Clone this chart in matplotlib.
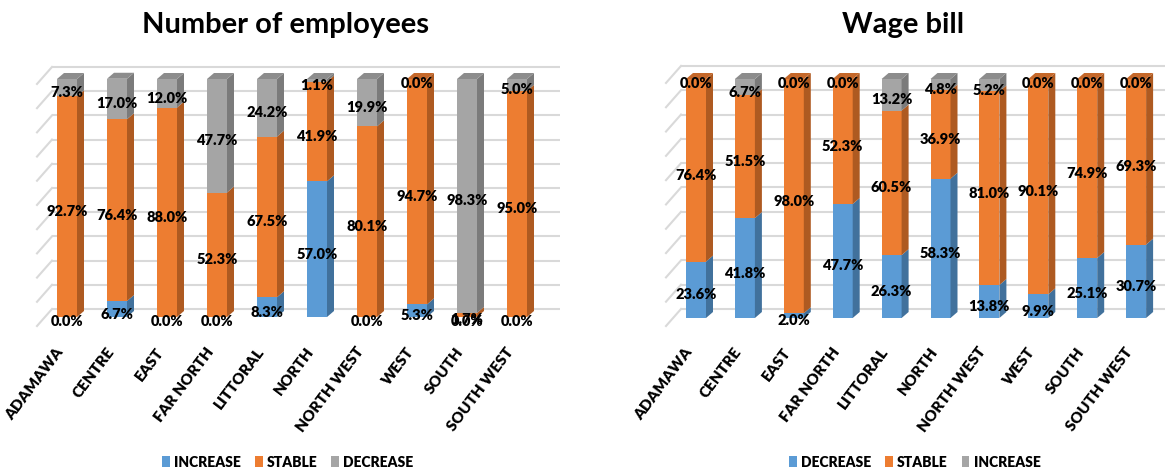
import matplotlib
matplotlib.use("Agg")
import matplotlib.pyplot as plt
from matplotlib.patches import Polygon, Patch

# Regions (x-axis categories)
regions = ["ADAMAWA", "CENTRE", "EAST", "FAR NORTH", "LITTORAL",
           "NORTH", "NORTH WEST", "WEST", "SOUTH", "SOUTH WEST"]

# Number of employees (% of firms)
emp_increase = [0.0, 6.7, 0.0, 0.0, 8.3, 57.0, 0.0, 5.3, 0.0, 0.0]
emp_stable = [92.7, 76.4, 88.0, 52.3, 67.5, 41.9, 80.1, 94.7, 1.7, 95.0]
emp_decrease = [7.3, 17.0, 12.0, 47.7, 24.2, 1.1, 19.9, 0.0, 98.3, 5.0]

# Wage bill (% of firms)
wage_decrease = [23.6, 41.8, 2.0, 47.7, 26.3, 58.3, 13.8, 9.9, 25.1, 30.7]
wage_stable = [76.4, 51.5, 98.0, 52.3, 60.5, 36.9, 81.0, 90.1, 74.9, 69.3]
wage_increase = [0.0, 6.7, 0.0, 0.0, 13.2, 4.8, 5.2, 0.0, 0.0, 0.0]

W, H = 1175, 477
fig = plt.figure(figsize=(W / 100, H / 100), dpi=100)
fig.patch.set_facecolor("white")

SHADES = {
    "blue": {"front": "#5B9BD5", "side": "#41719C", "top": "#4A84BA"},
    "orange": {"front": "#ED7D31", "side": "#AE5A21", "top": "#C5682A"},
    "gray": {"front": "#A5A5A5", "side": "#7B7B7B", "top": "#8C8C8C"},
}
LABEL_FONT = dict(family="Lato", fontweight="heavy")
GRID = "#D9D9D9"


def panel(title, title_x, series, x0, x1, c0, step, base, scale,
          grid_x0, grid_x1, grid_base, legend_x):
    ytop, ybot = 40, 400
    ax = fig.add_axes([x0 / W, 1 - ybot / H, (x1 - x0) / W, (ybot - ytop) / H])
    ax.set_xlim((x0 - c0) / step, (x1 - c0) / step)
    ax.set_ylim((base - ybot) / scale, (base - ytop) / scale)
    ax.axis("off")

    def ux(p):
        return p / step

    def uy(p):
        return p / scale

    n = len(regions)
    xs = list(range(n))
    width = ux(20)
    dx, dy = ux(7), uy(6)

    # back wall gridlines with their slanted floor edges
    g_off = (base - grid_base) / scale
    gx0 = (grid_x0 - c0) / step
    gx1 = (grid_x1 - c0) / step
    for v in range(0, 101, 10):
        yb = v * 1.017 + g_off
        ax.plot([gx0, gx1], [yb, yb], color=GRID, lw=1.5, zorder=1,
                solid_capstyle="butt")
        ax.plot([gx0, gx0 - ux(15)], [yb, yb - uy(17)], color=GRID, lw=1.5,
                zorder=1)

    bottoms = [0.0] * n
    top_color = [None] * n
    for vals, name, shade in series:
        col = SHADES[shade]
        ax.bar(xs, vals, width=width, bottom=bottoms, color=col["front"],
               linewidth=0, zorder=3)
        for i, (b, h) in enumerate(zip(bottoms, vals)):
            if h > 0:
                xr = i + width / 2
                ax.add_patch(Polygon(
                    [(xr, b), (xr + dx, b + dy), (xr + dx, b + h + dy), (xr, b + h)],
                    closed=True, facecolor=col["side"], lw=0, zorder=3))
                top_color[i] = col["top"]
        bottoms = [b + h for b, h in zip(bottoms, vals)]

    for i, t in enumerate(bottoms):
        xl = i - width / 2
        ax.add_patch(Polygon(
            [(xl, t), (xl + width, t), (xl + width + dx, t + dy), (xl + dx, t + dy)],
            closed=True, facecolor=top_color[i], lw=0, zorder=3))

    # value labels
    bottoms = [0.0] * n
    for vals, name, shade in series:
        for i, (b, h) in enumerate(zip(bottoms, vals)):
            ax.text(i, b + h / 2 - uy(4), f"{h:.1f}%", ha="center", va="center",
                    fontsize=10.5, color="black", zorder=6, **LABEL_FONT)
        bottoms = [b + h for b, h in zip(bottoms, vals)]

    # rotated category labels
    for i, r in enumerate(regions):
        ax.text(i - ux(6), (base - 349) / scale, r, rotation=53,
                rotation_mode="anchor", ha="right", va="center",
                fontsize=11, color="black", **LABEL_FONT)

    fig.text(title_x / W, 1 - 33 / H, title, ha="center", va="baseline",
             fontsize=21, fontweight="bold", family="Lato", color="black")

    handles = [Patch(facecolor=SHADES[s]["front"], edgecolor="none")
               for _, _, s in series]
    labels = [name for _, name, _ in series]
    fig.legend(handles, labels, loc="center",
               bbox_to_anchor=(legend_x / W, 1 - 463 / H), ncol=3,
               frameon=False,
               prop={"family": "Lato", "weight": "heavy", "size": 10},
               handlelength=0.55, handleheight=0.8, handletextpad=0.3,
               columnspacing=1.0)


panel("Number of employees", 285,
      [(emp_increase, "INCREASE", "blue"),
       (emp_stable, "STABLE", "orange"),
       (emp_decrease, "DECREASE", "gray")],
      x0=0, x1=585, c0=67, step=50, base=318, scale=2.38,
      grid_x0=52, grid_x1=560, grid_base=310, legend_x=288)

panel("Wage bill", 903,
      [(wage_decrease, "DECREASE", "blue"),
       (wage_stable, "STABLE", "orange"),
       (wage_increase, "INCREASE", "gray")],
      x0=590, x1=1175, c0=696, step=48.9, base=319, scale=2.39,
      grid_x0=681, grid_x1=1165, grid_base=310, legend_x=915)

fig.savefig("out.png", dpi=100, facecolor="white")
